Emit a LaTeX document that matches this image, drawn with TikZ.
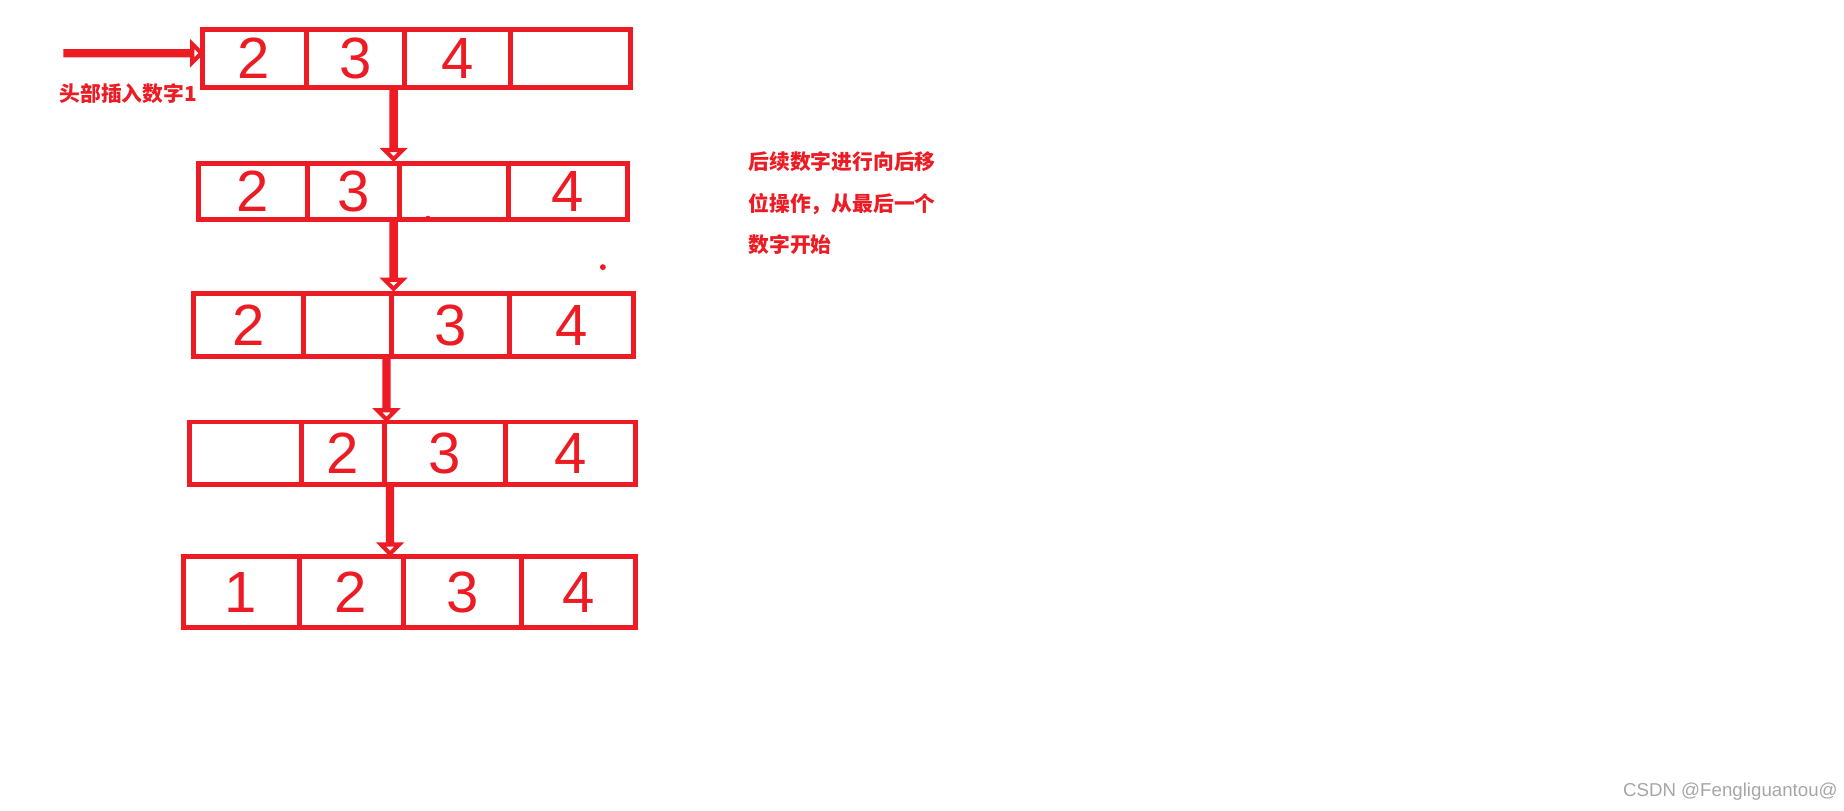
\documentclass[tikz,border=0pt]{standalone}
\usepackage{fontspec}
\setmainfont{Liberation Sans}
\newfontfamily\cjk{Noto Sans CJK SC}
\usetikzlibrary{shapes.arrows}
\definecolor{rd}{RGB}{237,28,36}
\begin{document}
\begin{tikzpicture}[x=0.02cm,y=-0.02cm,
  cellbox/.style={draw=rd,line width=2.4pt,inner sep=0pt,text=rd,font=\fontsize{28}{28}\selectfont},
  harrow/.style={single arrow,draw=rd,line width=2pt,inner sep=0pt,single arrow head extend=0.12cm,minimum height=#1},
  lbl/.style={text=rd,font=\cjk\bfseries\fontsize{10}{14}\selectfont,align=left,anchor=north west,inner sep=0pt}]
\useasboundingbox (0,0) rectangle (1560,686);
% rows: y1/y2 and cells
\newcommand\rowcells[4]{% #1 row id, #2 y1, #3 y2, #4 list x1/x2/text
  \foreach \a/\b/\t [count=\i] in {#4}{
    \node[cellbox,minimum width={(\b-\a)*0.02cm},minimum height={(#3-#2)*0.02cm}]
      (r#1c\i) at ({(\a+\b)/2},{(#2+#3)/2}) {\t};}}
\rowcells{1}{25}{74}{171/259/2,259/342/3,342/432/4,432/533/{}}
\rowcells{2}{138}{186}{168/260/2,260/338/3,338/430/{},430/531/4}
\rowcells{3}{248}{302}{164/257/2,257/331/{},331/431/3,431/536/4}
\rowcells{4}{357}{410}{160/255/{},255/325/2,325/428/3,428/538/4}
\rowcells{5}{471}{531}{155/253/1,253/341/2,341/441/3,441/538/4}
% arrows
\node[harrow=2.3cm,minimum width=0.14cm] (ain) at (112,45) {};
\node[lbl] (t1) at (50,70) {头部插入数字1};
\node[harrow=1.15cm,minimum width=0.26cm,shape border rotate=270] (d1) at (333,105) {};
\node[harrow=1.1cm,minimum width=0.26cm,shape border rotate=270] (d2) at (333,216) {};
\node[harrow=1.0cm,minimum width=0.26cm,shape border rotate=270] (d3) at (327,329) {};
\node[harrow=1.1cm,minimum width=0.26cm,shape border rotate=270] (d4) at (330,440) {};
\node[lbl,font=\cjk\bfseries\fontsize{10}{20}\selectfont] (t2) at (633,128) {后续数字进行向后移\\位操作，从最后一个\\数字开始};
\fill[rd] (362,185) circle (2.5);
\fill[rd] (510,226) circle (2.5);
\node[text=gray!70,font=\fontsize{9}{9}\selectfont,anchor=east,inner sep=0pt] (wm) at (1555,670) {CSDN @Fengliguantou@};
\end{tikzpicture}
\end{document}
